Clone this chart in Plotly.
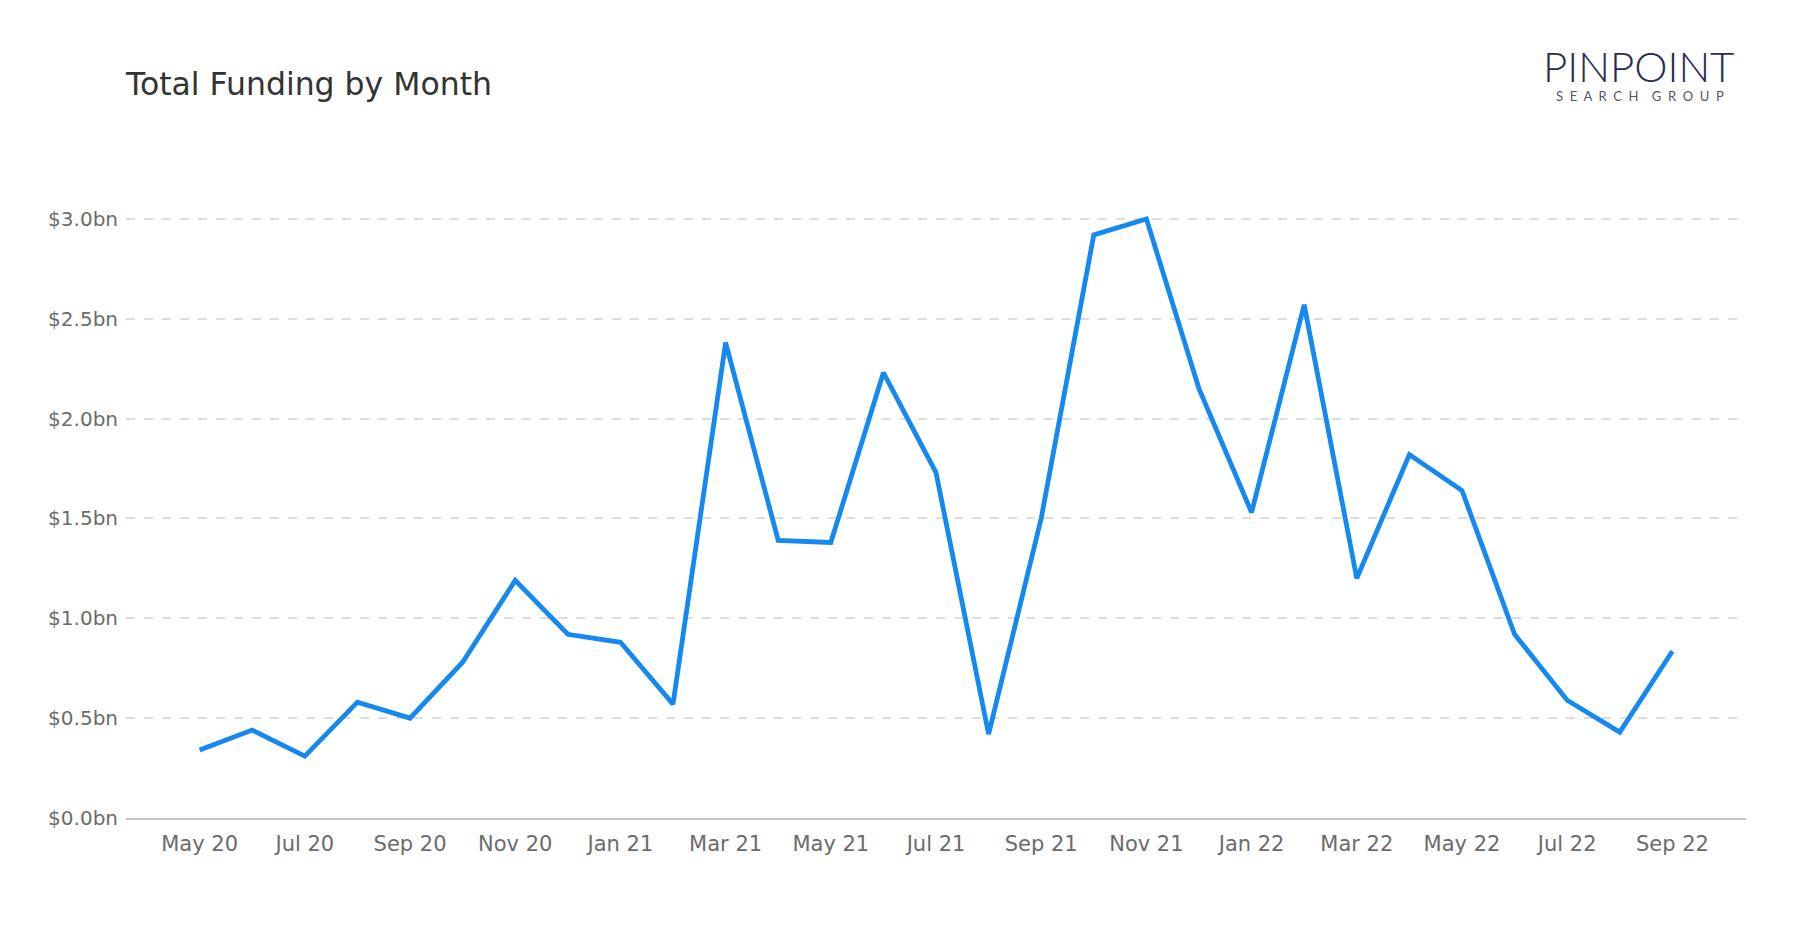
import plotly.graph_objects as go

months = ["May 20", "Jun 20", "Jul 20", "Aug 20", "Sep 20", "Oct 20", "Nov 20", "Dec 20",
          "Jan 21", "Feb 21", "Mar 21", "Apr 21", "May 21", "Jun 21", "Jul 21", "Aug 21",
          "Sep 21", "Oct 21", "Nov 21", "Dec 21", "Jan 22", "Feb 22", "Mar 22", "Apr 22",
          "May 22", "Jun 22", "Jul 22", "Aug 22", "Sep 22"]
funding_bn = [0.34, 0.44, 0.31, 0.58, 0.50, 0.78, 1.19, 0.92,
              0.88, 0.57, 2.38, 1.39, 1.38, 2.23, 1.73, 0.42,
              1.50, 2.92, 3.00, 2.15, 1.53, 2.57, 1.20, 1.82,
              1.64, 0.92, 0.59, 0.43, 0.835]
tick_labels = months[::2]
y_ticks = [0.0, 0.5, 1.0, 1.5, 2.0, 2.5, 3.0]
y_tick_labels = ["$0.0bn", "$0.5bn", "$1.0bn", "$1.5bn", "$2.0bn", "$2.5bn", "$3.0bn"]

W, H = 1800, 930
L, R, T, B = 126, 54, 150, 112

fig = go.Figure()
fig.add_trace(go.Scatter(
    x=months, y=funding_bn, mode="lines",
    line=dict(color="#1589F0", width=4.8),
    hoverinfo="x+y",
))

fig.update_layout(
    width=W, height=H,
    margin=dict(l=L, r=R, t=T, b=B),
    paper_bgcolor="white", plot_bgcolor="white",
    showlegend=False,
    font=dict(family="DejaVu Sans", size=21, color="#6b6b6b"),
    title=dict(text="Total Funding by Month", x=0, xref="paper", xanchor="left",
               y=1 - 84 / H, yref="container", yanchor="middle",
               font=dict(family="DejaVu Sans", size=31.5, color="#333333")),
)
fig.update_xaxes(
    type="category", categoryorder="array", categoryarray=months,
    tickmode="array", tickvals=tick_labels, ticktext=tick_labels,
    range=[-1.4, len(months) - 1 + 1.4],
    showgrid=False, showline=True, linecolor="#c4c4c4", linewidth=2,
    ticks="outside", ticklen=6, tickcolor="rgba(0,0,0,0)",
    tickfont=dict(size=21, color="#6b6b6b"),
)
fig.update_yaxes(
    range=[0, 3.0 * (H - B - T) / (817.4 - 218.3)],
    tickmode="array", tickvals=y_ticks, ticktext=y_tick_labels,
    showgrid=True, gridcolor="#dddddd", gridwidth=1.5, griddash="dash",
    zeroline=False, showline=False,
    ticks="outside", ticklen=3, tickcolor="rgba(0,0,0,0)",
    tickfont=dict(size=20, color="#6b6b6b"),
)

# Logo text
fig.add_annotation(text="PINPOINT", xref="paper", yref="paper",
                   x=1.0 - 10 / (W - L - R), y=1 + (T - 66) / (H - T - B),
                   xanchor="right", yanchor="middle", showarrow=False,
                   font=dict(family="Lato", size=42, color="#2a2c52", weight=300))
fig.add_annotation(text="S  E  A  R  C  H    G  R  O  U  P", xref="paper", yref="paper",
                   x=1.0 - 20 / (W - L - R), y=1 + (T - 96) / (H - T - B),
                   xanchor="right", yanchor="middle", showarrow=False,
                   font=dict(family="Lato", size=13, color="#555566"))

fig.write_html("out.html")
